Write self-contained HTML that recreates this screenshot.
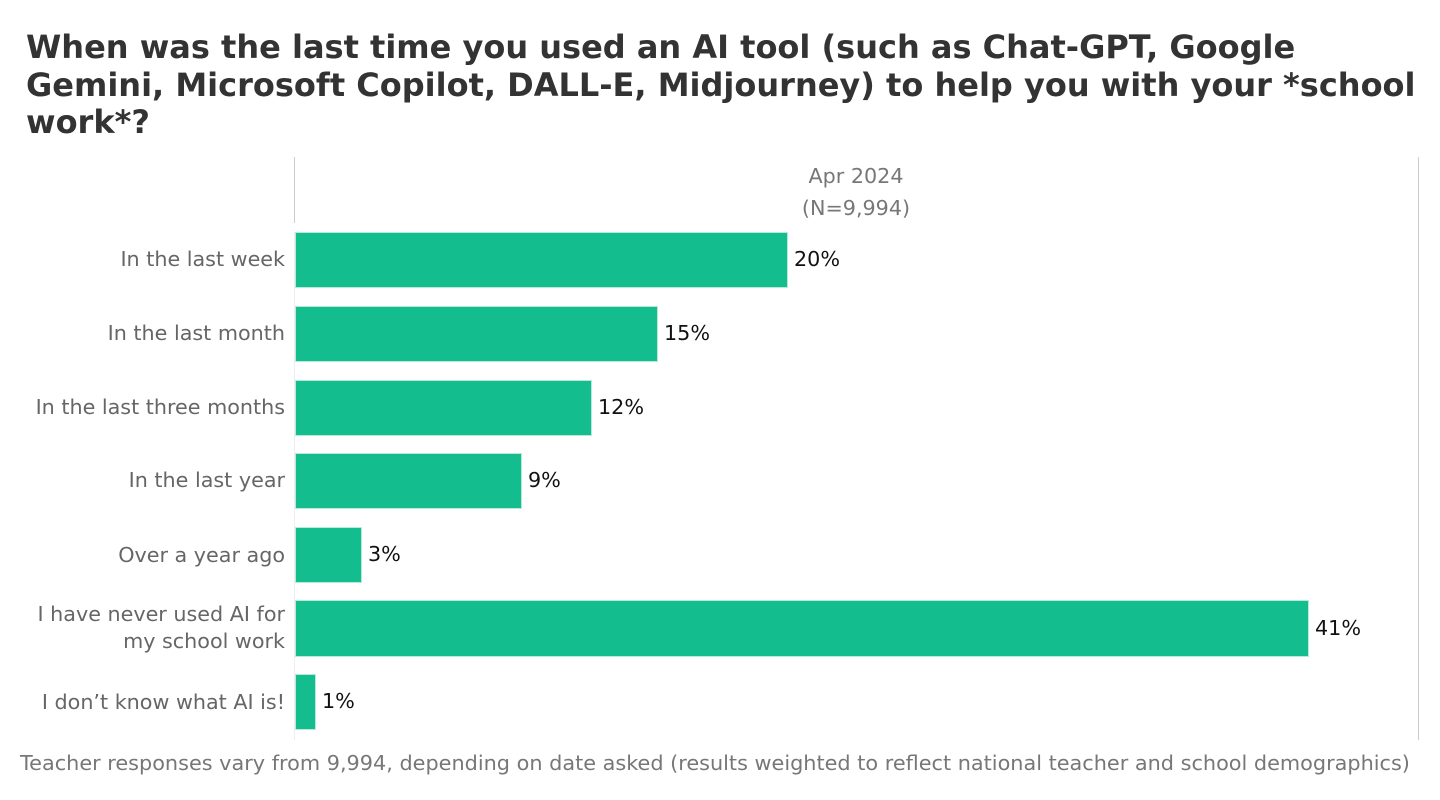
<!DOCTYPE html>
<html><head><meta charset="utf-8"><style>
body{margin:0;width:1440px;height:800px;background:#fff;font-family:"DejaVu Sans","Liberation Sans",sans-serif;position:relative;overflow:hidden}
.t{position:absolute;left:26px;top:29px;font-size:32px;font-weight:bold;color:#333;line-height:37.5px;width:1405px}
.lab{position:absolute;right:1155px;color:#666;font-size:20.7px;text-align:right;line-height:27px;white-space:nowrap}
.bar{position:absolute;left:295px;background:#13bd8e;border:1px solid #b8e9d9;box-sizing:border-box}
.v{position:absolute;font-size:20.7px;color:#111;line-height:27px}
.vl{position:absolute;width:1px;background:#ccc;top:157px;height:583px}
</style></head><body>
<div class="t">When was the last time you used an AI tool (such as Chat-GPT, Google Gemini, Microsoft Copilot, DALL-E, Midjourney) to help you with your *school work*?</div>
<div class="vl" style="left:294px;top:157px;height:66px"></div>
<div class="vl" style="left:294px;top:232px;height:508px;background:#eee"></div>
<div class="vl" style="left:1418px"></div>
<div style="position:absolute;left:756px;width:200px;text-align:center;top:160px;color:#777;font-size:20.7px;line-height:32px">Apr 2024<br>(N=9,994)</div>

<div class="lab" style="top:246px">In the last week</div>
<div class="bar" style="top:232px;width:493px;height:56px"></div>
<div class="v" style="left:794px;top:246px">20%</div>

<div class="lab" style="top:320px">In the last month</div>
<div class="bar" style="top:306px;width:363px;height:56px"></div>
<div class="v" style="left:664px;top:320px">15%</div>

<div class="lab" style="top:394px">In the last three months</div>
<div class="bar" style="top:380px;width:297px;height:56px"></div>
<div class="v" style="left:598px;top:394px">12%</div>

<div class="lab" style="top:467px">In the last year</div>
<div class="bar" style="top:453px;width:227px;height:56px"></div>
<div class="v" style="left:528px;top:467px">9%</div>

<div class="lab" style="top:542px">Over a year ago</div>
<div class="bar" style="top:527px;width:67px;height:56px"></div>
<div class="v" style="left:368px;top:541px">3%</div>

<div class="lab" style="top:601px">I have never used AI for<br>my school work</div>
<div class="bar" style="top:600px;width:1014px;height:57px"></div>
<div class="v" style="left:1315px;top:615px">41%</div>

<div class="lab" style="top:689px">I don’t know what AI is!</div>
<div class="bar" style="top:674px;width:21px;height:56px"></div>
<div class="v" style="left:322px;top:688px">1%</div>

<div style="position:absolute;left:20px;top:751px;font-size:20.8px;color:#777;white-space:nowrap">Teacher responses vary from 9,994, depending on date asked (results weighted to reflect national teacher and school demographics)</div>
</body></html>
